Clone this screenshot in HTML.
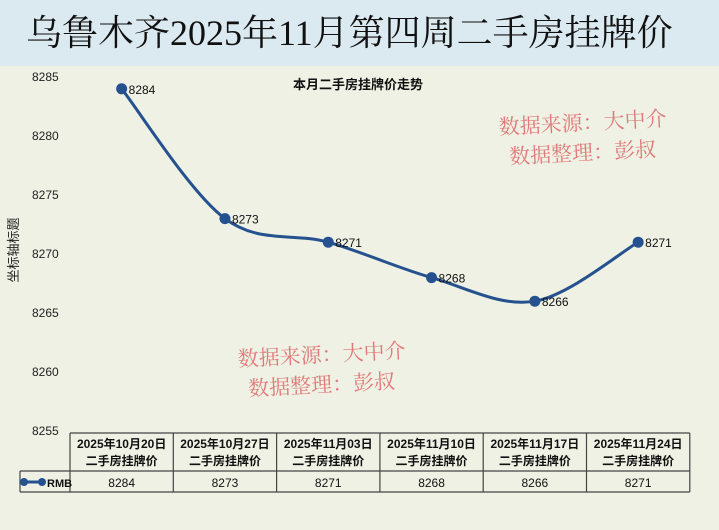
<!DOCTYPE html>
<html><head><meta charset="utf-8"><style>
body{margin:0;width:719px;height:530px;overflow:hidden;background:#eef1e3;font-family:"Liberation Sans","Noto Sans CJK SC",sans-serif}
#title{position:absolute;left:0;top:0;width:719px;height:66px;background:#dbe9f0;font-family:"Liberation Serif","Noto Serif CJK SC",serif;font-size:36px;line-height:66px;padding-left:26px;box-sizing:border-box;color:#111}
</style></head><body>
<div id="title">乌鲁木齐2025年11月第四周二手房挂牌价</div>
<svg id="c" width="719" height="530" style="position:absolute;left:0;top:0"></svg>
<script>
const categories=["2025年10月20日","2025年10月27日","2025年11月03日","2025年11月10日","2025年11月17日","2025年11月24日"];
const values=[8284,8273,8271,8268,8266,8271];
const ticks=[8255,8260,8265,8270,8275,8280,8285];
const svg=document.getElementById('c');
const NS='http://www.w3.org/2000/svg';
function el(t,a,txt){const e=document.createElementNS(NS,t);for(const k in a)e.setAttribute(k,a[k]);if(txt!=null)e.textContent=txt;svg.appendChild(e);return e;}
const y0=431,y1=77,vmin=8255,vmax=8285;
const y=v=>y0-(v-vmin)/(vmax-vmin)*(y0-y1);
const tl=70,cw=103.3;
const x=i=>tl+cw*(i+0.5);
ticks.forEach(t=>{const e=el('text',{x:32,y:y(t)+4,'font-size':12,fill:'#222'},t);

});
const ya=el('text',{x:18,y:250,'font-size':13,fill:'#222',transform:'rotate(-90 18 250)','text-anchor':'middle'},'坐标轴标题');

const st=el('text',{x:358,y:89,'font-size':13,'text-anchor':'middle',fill:'#111','font-weight':'bold'},'本月二手房挂牌价走势');

const pts=values.map((v,i)=>[x(i),y(v)]);
let d=`M${pts[0][0]},${pts[0][1]}`;
for(let i=0;i<pts.length-1;i++){const p0=pts[i-1]||pts[i],p1=pts[i],p2=pts[i+1],p3=pts[i+2]||p2;
d+=` C${p1[0]+(p2[0]-p0[0])/6},${p1[1]+(p2[1]-p0[1])/6} ${p2[0]-(p3[0]-p1[0])/6},${p2[1]-(p3[1]-p1[1])/6} ${p2[0]},${p2[1]}`;}
const ln=el('path',{d,fill:'none',stroke:'#25518f','stroke-width':3});

pts.forEach((p,i)=>{const c=el('circle',{cx:p[0],cy:p[1],r:5.5,fill:'#25518f'});

const t=el('text',{x:p[0]+7,y:p[1]+5,'font-size':12,fill:'#111'},values[i]);
});
[[583,130,'数据来源：大中介'],[583,160,'数据整理：彭叔'],[322,362,'数据来源：大中介'],[322,392,'数据整理：彭叔']].forEach(w=>{
const t=el('text',{x:w[0],y:w[1],'font-size':21,fill:'#e07a7a','text-anchor':'middle','font-family':'"Liberation Serif","Noto Serif CJK SC",serif',transform:`rotate(-3 ${w[0]} ${w[1]})`},w[2]);
});
const tb=433,tm=471,tbot=492,tr=tl+cw*6;
const g=[['M',tl,tb,tr,tb],['M',tl,tm,tr,tm],['M',20,tm,tl,tm],['M',20,tbot,tr,tbot],['M',20,tm,20,tbot]];
g.forEach(s=>{const l=el('line',{x1:s[1],y1:s[2],x2:s[3],y2:s[4],stroke:'#444','stroke-width':1.2});
});
for(let i=0;i<=6;i++){const l=el('line',{x1:tl+cw*i,y1:tb,x2:tl+cw*i,y2:tbot,stroke:'#444','stroke-width':1.2});
}
categories.forEach((c,i)=>{
const a=el('text',{x:x(i),y:tb+15,'font-size':12,'text-anchor':'middle',fill:'#111','font-weight':'bold'},c);

const b=el('text',{x:x(i),y:tb+32,'font-size':12,'text-anchor':'middle',fill:'#111','font-weight':'bold'},'二手房挂牌价');

const v=el('text',{x:x(i),y:tm+16,'font-size':12,'text-anchor':'middle',fill:'#111'},values[i]);
});
const lk=el('line',{x1:24,y1:482,x2:42,y2:482,stroke:'#25518f','stroke-width':3});

[24,42].forEach(cx=>{const c=el('circle',{cx,cy:482,r:4,fill:'#25518f'});});
const lt=el('text',{x:47,y:487,'font-size':11,fill:'#111','font-weight':'bold'},'RMB');

</script>
</body></html>
